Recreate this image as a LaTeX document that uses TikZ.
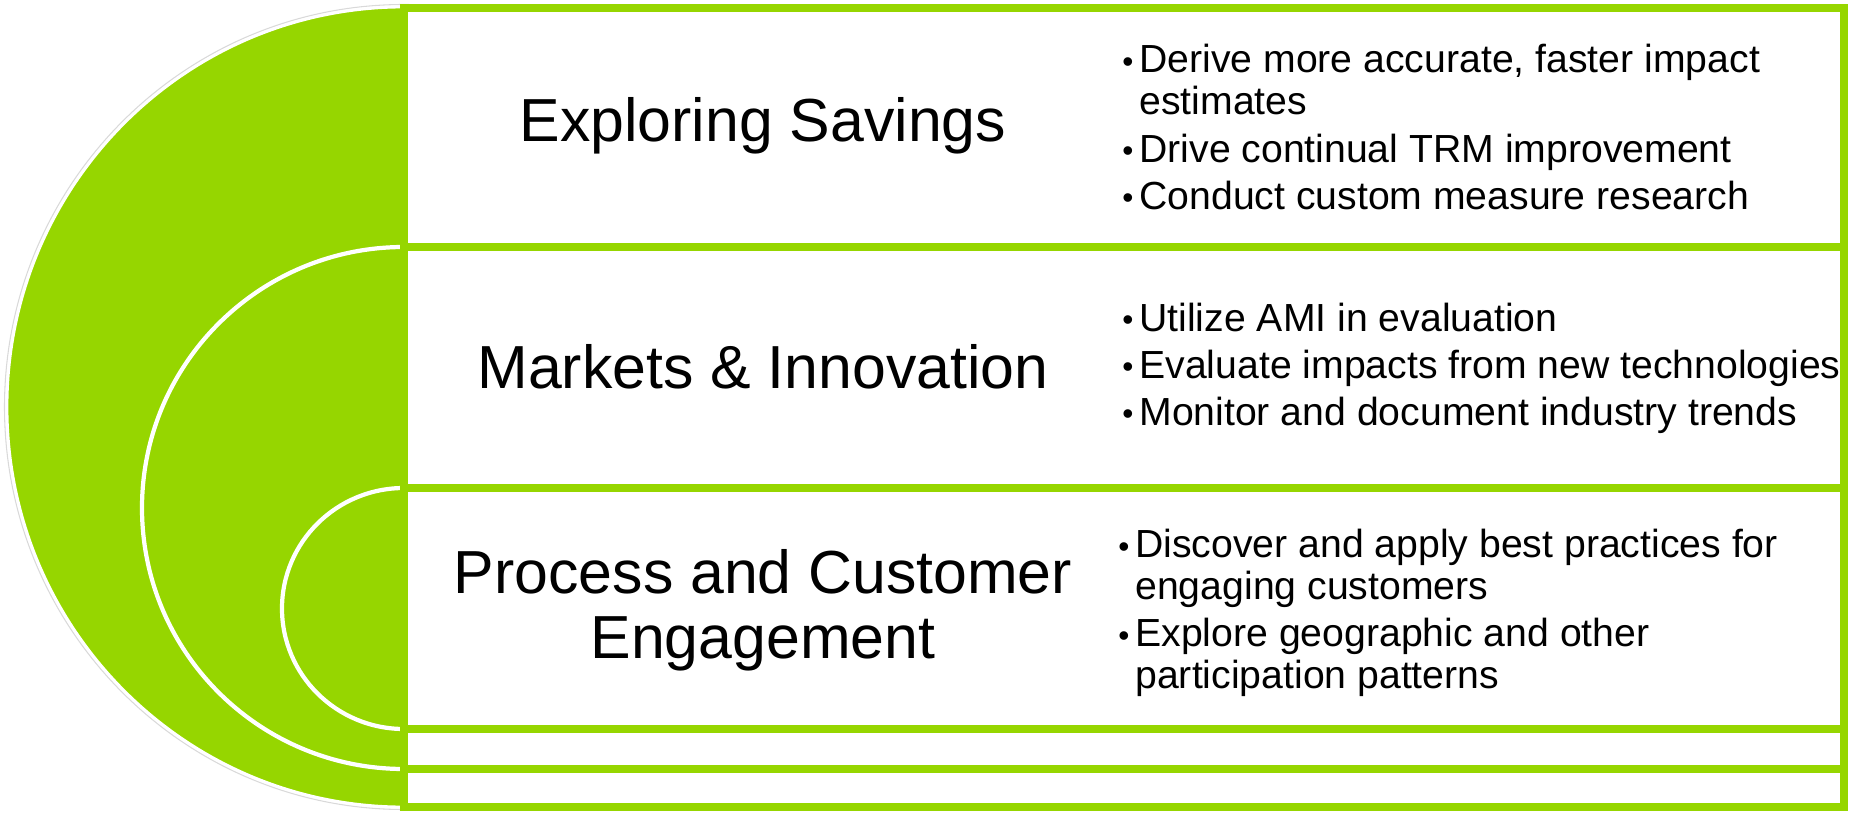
\documentclass[tikz,border=0pt]{standalone}
\usepackage{fontspec}
\setmainfont{Liberation Sans}
\usetikzlibrary{positioning}
\definecolor{leafgreen}{RGB}{150,214,0}
\newcommand{\dotitem}{\raisebox{0.2pt}{\fontsize{18}{18}\selectfont\textbullet}\hspace{3.4pt}}
\newcommand{\dotgap}{\phantom{\dotitem}}

\begin{document}
\begin{tikzpicture}[x=0.02cm, y=0.02cm,
    frame/.style={draw=leafgreen, line width=4.3pt},
    ring/.style={draw=white, line width=2.4pt},
    title/.style={font=\fontsize{34.6}{37}\selectfont, align=center, inner sep=0pt},
    points/.style={font=\fontsize{22.3}{24}\selectfont, align=left, anchor=west, inner sep=0pt}]
    \useasboundingbox (0,0) rectangle (1861,812);

    % nested half rings
    \draw[gray!30, line width=0.6pt] (404,405) ellipse (399.5 and 402.5);
    \draw[fill=leafgreen, draw=white, line width=1.6pt] (404,405) ellipse (397 and 400);
    \draw[ring] (404,304) ellipse (262 and 261);
    \draw[ring] (404,203.5) ellipse (122 and 120.5);

    % table on the right
    \fill[white] (404,5) rectangle (1844,804);
    \draw[frame] (404,5) rectangle (1844,804);
    \foreach \y in {565,324,83,43}
        \draw[frame] (404,\y) -- (1844,\y);

    \node[title] (savings) at (763,686) {Exploring Savings};
    \node[title] (markets) at (763,445) {Markets \& Innovation};
    \node[title] (process) at (763,202) {Process and Customer\\Engagement};

    \node[points] (savingsList) at (1122,685) {\dotitem Derive more accurate, faster impact\\
        \dotgap estimates\\[2.8pt]
        \dotitem Drive continual TRM improvement\\[2.8pt]
        \dotitem Conduct custom measure research};
    \node[points] (marketsList) at (1122,444) {\dotitem Utilize AMI in evaluation\\[2.8pt]
        \dotitem Evaluate impacts from new technologies\\[2.8pt]
        \dotitem Monitor and document industry trends};
    \node[points] (processList) at (1118,199) {\dotitem Discover and apply best practices for\\
        \dotgap engaging customers\\[2.8pt]
        \dotitem Explore geographic and other\\
        \dotgap participation patterns};
\end{tikzpicture}
\end{document}
